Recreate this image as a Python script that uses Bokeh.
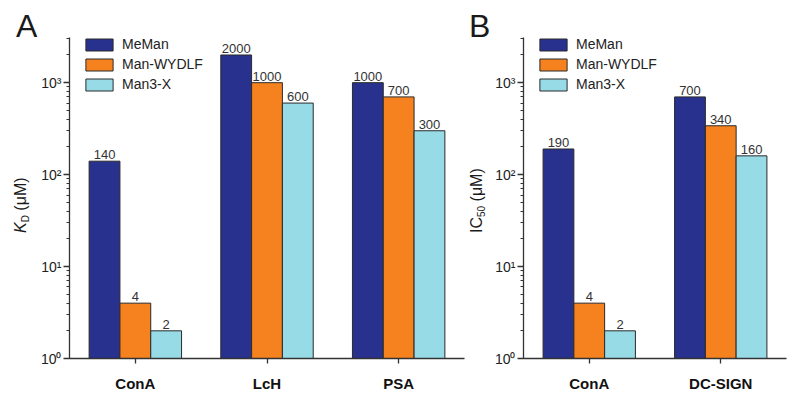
from bokeh.plotting import figure
from bokeh.layouts import row
from bokeh.core.properties import value
from bokeh.models import (ColumnDataSource, Range1d, FixedTicker, LogTicker, Legend, LegendItem,
                          LabelSet, CustomJSTickFormatter, Div)
from bokeh.embed import file_html
from bokeh.resources import INLINE

# ---- data ----
series = ["MeMan", "Man-WYDLF", "Man3-X"]
colors = ["#29318E", "#F5821F", "#97DBE7"]

cats_a = ["ConA", "LcH", "PSA"]
kd_meman = [140, 2000, 1000]
kd_wydlf = [4, 1000, 700]
kd_man3x = [2, 600, 300]

cats_b = ["ConA", "DC-SIGN"]
ic_meman = [190, 700]
ic_wydlf = [4, 340]
ic_man3x = [2, 160]

FONT = "Liberation Sans"
BAR_W = 0.234
OFFSETS = [-BAR_W, 0.0, BAR_W]
H = 400

sup_fmt = CustomJSTickFormatter(code="""
const sup = {'0':'\u2070','1':'\u00b9','2':'\u00b2','3':'\u00b3','4':'\u2074','-':'\u207b'};
const e = Math.round(Math.log10(tick));
return '10' + String(e).split('').map(c => sup[c]).join('');
""")


def make_panel(cats, vals, width, bl, br):
    n = len(cats)
    p = figure(width=width, height=H, output_backend="svg", toolbar_location=None,
               y_axis_type="log", x_range=Range1d(-0.5, n - 0.5), y_range=Range1d(1, 3100),
               min_border_left=bl, min_border_right=br, min_border_top=37, min_border_bottom=42)
    p.outline_line_color = None
    p.xgrid.visible = False
    p.ygrid.visible = False

    renderers = []
    for s, (name, col, off) in enumerate(zip(series, colors, OFFSETS)):
        src = ColumnDataSource(dict(x=[i + off for i in range(n)], top=vals[s],
                                    lab=[str(v) for v in vals[s]]))
        r = p.vbar(x="x", top="top", bottom=1, width=BAR_W, source=src,
                   fill_color=col, line_color="#2a2a2a", line_width=1)
        renderers.append((name, r))
        p.add_layout(LabelSet(x="x", y="top", text="lab", source=src, text_align="center",
                              text_baseline="alphabetic", y_offset=2,
                              text_font_size=value("13px"), text_font=value(FONT),
                              text_color="#333333"))

    for ax in (p.xaxis[0], p.yaxis[0]):
        ax.axis_line_color = "#333333"
        ax.axis_line_width = 1.3
        ax.major_tick_line_color = "#333333"
        ax.minor_tick_line_color = "#333333"
        ax.major_tick_line_width = 1.3
        ax.axis_label = None
    xa = p.xaxis[0]
    xa.ticker = FixedTicker(ticks=list(range(n)))
    xa.major_label_overrides = {i: c for i, c in enumerate(cats)}
    xa.major_tick_out = 5
    xa.major_tick_in = 0
    xa.minor_tick_out = 0
    xa.major_label_standoff = 11
    xa.major_label_text_font = FONT
    xa.major_label_text_font_style = "bold"
    xa.major_label_text_font_size = "15px"
    xa.major_label_text_color = "#111111"

    ya = p.yaxis[0]
    ya.ticker = LogTicker(num_minor_ticks=10)
    ya.formatter = sup_fmt
    ya.major_tick_out = 6
    ya.major_tick_in = 0
    ya.minor_tick_out = 3
    ya.minor_tick_in = 0
    ya.major_label_standoff = 2
    ya.major_label_text_font = FONT
    ya.major_label_text_font_size = "14px"
    ya.major_label_text_color = "#222222"

    legend = Legend(items=[LegendItem(label=nm, renderers=[r]) for nm, r in renderers],
                    location=(13, 266), glyph_width=34, glyph_height=15, label_height=15,
                    spacing=4, padding=0, margin=0, label_standoff=6,
                    label_text_font=FONT, label_text_font_size="14px",
                    label_text_color="#222222", border_line_color=None,
                    background_fill_alpha=0)
    p.add_layout(legend)
    return p


def side_div(width, letter, letter_left, title_html, title_left, title_bottom):
    f = "font-family:'Liberation Sans',Arial,sans-serif;color:#1a1a1a;white-space:nowrap;"
    html = (
        f'<div style="position:relative;width:{width}px;height:{H}px;overflow:visible;">'
        f'<span style="position:absolute;left:{letter_left}px;top:10px;{f}'
        f'font-size:32px;line-height:32px;">{letter}</span>'
        f'<span style="position:absolute;left:{title_left}px;top:{title_bottom}px;{f}'
        f'font-size:16px;line-height:16px;transform:rotate(-90deg);transform-origin:0 0;">'
        f'{title_html}</span></div>'
    )
    return Div(text=html, width=width, height=H, margin=0, styles={"overflow": "visible"})


sub = '<span style="font-size:10px;position:relative;top:3px;">{}</span>'
divA = side_div(37, "A", 16, '<i>K</i>' + sub.format("D") + '&nbsp;(&mu;M)', 13, 233)
divB = side_div(26, "B", 4, 'IC' + sub.format("50") + '&nbsp;(&mu;M)', 4, 233)

pa = make_panel(cats_a, [kd_meman, kd_wydlf, kd_man3x], 428, 29, 1)
pb = make_panel(cats_b, [ic_meman, ic_wydlf, ic_man3x], 310, 30, 15)

layout = row(divA, pa, divB, pb, spacing=0)
open("out.html", "w").write(file_html(layout, INLINE))
